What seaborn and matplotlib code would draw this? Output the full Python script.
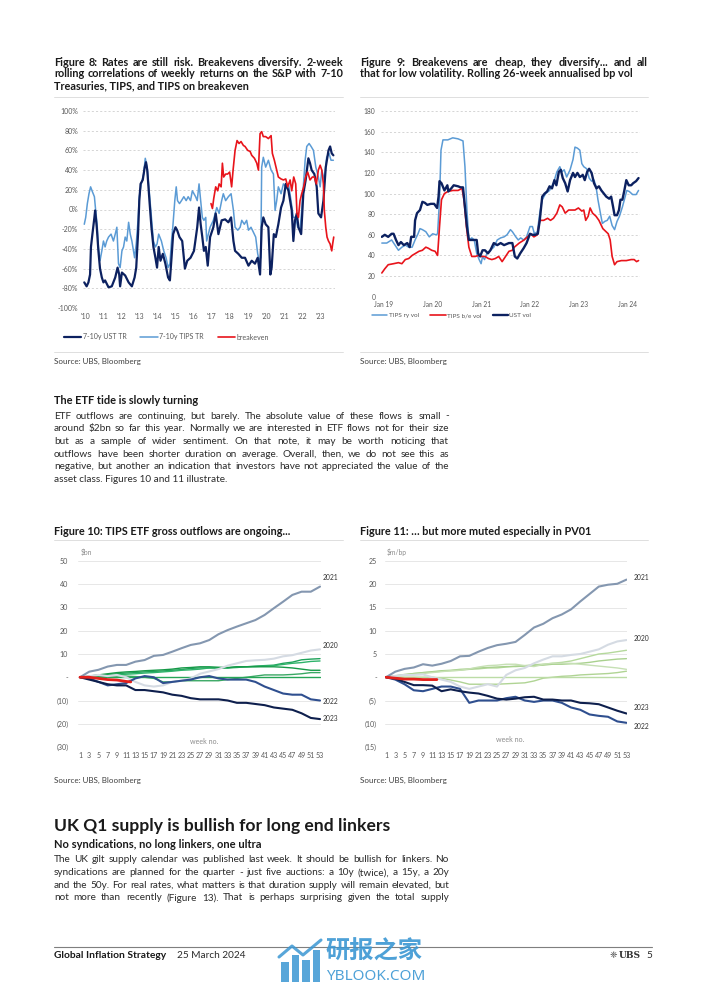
import matplotlib
matplotlib.use('Agg')
import matplotlib.pyplot as plt
import seaborn as sns
from matplotlib.lines import Line2D
from matplotlib.patches import Rectangle

W, H = 702, 992
FONT = ['Lato', 'DejaVu Sans']

# ---------------- Figure 8: 2-week rolling correlations with S&P (%)
ust_tr_x = [2009.96, 2010.09, 2010.19, 2010.28, 2010.33, 2010.41, 2010.52, 2010.56, 2010.65, 2010.74,
            2010.83, 2010.93, 2011.02, 2011.11, 2011.30, 2011.48, 2011.67, 2011.80, 2011.89, 2011.94,
            2012.04, 2012.22, 2012.41, 2012.59, 2012.74, 2012.83, 2012.93, 2013.00, 2013.07, 2013.19,
            2013.30, 2013.37, 2013.44, 2013.56, 2013.67, 2013.78, 2013.89, 2013.98, 2014.07, 2014.17,
            2014.30, 2014.44, 2014.59, 2014.69, 2014.78, 2014.87, 2015.00, 2015.09, 2015.22, 2015.37,
            2015.52, 2015.65, 2015.83, 2016.02, 2016.20, 2016.30, 2016.39, 2016.48, 2016.57, 2016.67,
            2016.78, 2016.91, 2017.09, 2017.22, 2017.37, 2017.55, 2017.74, 2017.92, 2018.07, 2018.20,
            2018.29, 2018.47, 2018.66, 2018.84, 2019.03, 2019.21, 2019.39, 2019.54, 2019.67, 2019.76,
            2019.85, 2019.98, 2020.13, 2020.24, 2020.31, 2020.43, 2020.54, 2020.68, 2020.83, 2020.96,
            2021.09, 2021.24, 2021.42, 2021.51, 2021.60, 2021.70, 2021.79, 2021.94, 2022.06, 2022.19,
            2022.34, 2022.43, 2022.52, 2022.67, 2022.80, 2022.89, 2023.04, 2023.17, 2023.30, 2023.45,
            2023.54, 2023.63, 2023.72]
ust_tr_y = [-74, -78, -74, -66, -38, -25, -8, -1, -18, -42,
            -60, -69, -74, -72, -79, -78, -69, -59, -66, -78,
            -64, -67, -74, -78, -69, -59, -25, 9, 26, 30,
            43, 48, 40, 9, -18, -38, -49, -59, -38, -52,
            -45, -55, -69, -72, -49, -25, -18, -21, -28, -32,
            -60, -52, -49, -42, -18, 2, -15, -28, -42, -38,
            -57, -28, -18, -4, -25, -11, -10, -13, -8, -32,
            -42, -45, -49, -49, -57, -52, -55, -49, -66, -18,
            -8, -15, -18, -66, -59, -25, -28, -15, 2, 9,
            26, 19, -1, -32, -11, -4, -18, -25, 16, 30,
            52, 47, 40, 36, 23, -4, -8, 9, 43, 60,
            64, 57, 55]

tips_tr_x = [2009.96, 2010.04, 2010.13, 2010.22, 2010.31, 2010.41, 2010.52, 2010.59, 2010.67, 2010.74,
             2010.83, 2010.93, 2011.02, 2011.11, 2011.20, 2011.30, 2011.44, 2011.57, 2011.67, 2011.76,
             2011.85, 2011.94, 2012.04, 2012.13, 2012.22, 2012.31, 2012.41, 2012.50, 2012.59, 2012.74,
             2012.83, 2012.93, 2013.00, 2013.11, 2013.24, 2013.33, 2013.43, 2013.56, 2013.67, 2013.78,
             2013.89, 2013.98, 2014.07, 2014.22, 2014.35, 2014.48, 2014.59, 2014.69, 2014.78, 2014.85,
             2014.96, 2015.04, 2015.11, 2015.22, 2015.33, 2015.46, 2015.59, 2015.70, 2015.83, 2015.93,
             2016.02, 2016.11, 2016.20, 2016.30, 2016.39, 2016.48, 2016.57, 2016.67, 2016.72, 2016.91,
             2017.09, 2017.28, 2017.41, 2017.55, 2017.64, 2017.77, 2017.92, 2018.07, 2018.20, 2018.29,
             2018.44, 2018.57, 2018.66, 2018.80, 2018.93, 2019.03, 2019.17, 2019.30, 2019.43, 2019.54,
             2019.63, 2019.71, 2019.76, 2019.85, 2019.98, 2020.13, 2020.28, 2020.41, 2020.50, 2020.59,
             2020.68, 2020.83, 2020.96, 2021.09, 2021.24, 2021.38, 2021.51, 2021.64, 2021.75, 2021.88,
             2021.97, 2022.06, 2022.16, 2022.25, 2022.38, 2022.49, 2022.62, 2022.75, 2022.89, 2022.99,
             2023.08, 2023.22, 2023.35, 2023.48, 2023.59, 2023.72]
tips_tr_y = [-15, -8, 6, 16, 23, 18, 13, -1, -15, -38,
             -52, -42, -32, -38, -32, -28, -25, -32, -25, -18,
             -55, -59, -42, -38, -28, -32, -13, -25, -32, -49,
             -35, -11, 13, 26, 36, 52, 43, 16, -8, -32,
             -38, -35, -25, -32, -42, -49, -59, -55, -32, -18,
             9, 23, 9, 6, 9, 13, 9, 13, 9, 19,
             16, 13, 9, 26, 9, -8, -11, -8, -32, -18,
             -11, 2, -4, 9, 16, 9, 13, 16, -1, -18,
             -21, -18, -11, -15, -11, -21, -18, -23, -28, -45,
             -52, -49, 43, 53, 43, 50, 40, 36, -1, 9,
             23, 16, 26, 23, 26, 9, -8, -8, -18, -21,
             -1, 23, 50, 64, 67, 64, 60, 43, 33, 23,
             40, 30, 53, 57, 50, 50]

be_x = [2016.96, 2017.04, 2017.11, 2017.22, 2017.33, 2017.41, 2017.52, 2017.59, 2017.66, 2017.77,
        2017.88, 2017.99, 2018.10, 2018.18, 2018.29, 2018.40, 2018.51, 2018.62, 2018.75, 2018.84,
        2018.99, 2019.12, 2019.21, 2019.36, 2019.49, 2019.58, 2019.67, 2019.76, 2019.85, 2019.98,
        2020.13, 2020.28, 2020.35, 2020.46, 2020.59, 2020.68, 2020.83, 2020.96, 2021.09, 2021.20,
        2021.33, 2021.42, 2021.53, 2021.64, 2021.71, 2021.79, 2021.88, 2021.97, 2022.08, 2022.19,
        2022.30, 2022.43, 2022.56, 2022.67, 2022.78, 2022.89, 2022.99, 2023.08, 2023.17, 2023.22,
        2023.30, 2023.37, 2023.45, 2023.54, 2023.63, 2023.68, 2023.74]
be_y = [6, 1, 11, 23, 19, 26, 23, 47, 33, 36,
        36, 38, 23, 40, 60, 70, 67, 69, 65, 64,
        60, 59, 55, 52, 47, 40, 77, 79, 74, 74,
        72, 75, 57, 50, 40, 33, 31, 30, 31, 23,
        30, 19, 33, 26, -4, -8, 9, 16, 23, 33,
        38, 30, 33, 33, 26, 40, 45, 40, 26, -1,
        -18, -28, -32, -35, -42, -35, -28]

# ---------------- Figure 9: rolling 26-week annualised bp vol
ust_vol_x = [2018.97, 2019.03, 2019.10, 2019.17, 2019.21, 2019.26, 2019.31, 2019.36, 2019.42, 2019.49,
             2019.54, 2019.57, 2019.63, 2019.65, 2019.69, 2019.75, 2019.80, 2019.85, 2019.90, 2019.97,
             2020.04, 2020.10, 2020.13, 2020.15, 2020.19, 2020.25, 2020.31, 2020.33, 2020.39, 2020.44,
             2020.53, 2020.58, 2020.63, 2020.67, 2020.71, 2020.75, 2020.84, 2020.91, 2020.94, 2020.98,
             2021.03, 2021.08, 2021.14, 2021.19, 2021.26, 2021.33, 2021.40, 2021.47, 2021.57, 2021.64,
             2021.69, 2021.74, 2021.80, 2021.87, 2021.93, 2022.00, 2022.05, 2022.11, 2022.16, 2022.20,
             2022.25, 2022.30, 2022.35, 2022.40, 2022.45, 2022.50, 2022.54, 2022.59, 2022.63, 2022.67,
             2022.72, 2022.77, 2022.82, 2022.88, 2022.92, 2022.97, 2023.02, 2023.08, 2023.12, 2023.17,
             2023.21, 2023.26, 2023.31, 2023.36, 2023.41, 2023.46, 2023.51, 2023.56, 2023.62, 2023.66,
             2023.70, 2023.73, 2023.78, 2023.82, 2023.85, 2023.89, 2023.93, 2023.97, 2024.02, 2024.07,
             2024.11, 2024.17, 2024.22]
ust_vol_y = [58, 60, 58, 61, 61, 55, 50, 53, 50, 52,
             48, 58, 58, 74, 81, 84, 92, 91, 89, 90,
             90, 86, 97, 112, 110, 103, 108, 102, 105, 108,
             107, 106, 106, 87, 68, 55, 55, 55, 42, 39,
             45, 45, 42, 45, 52, 50, 52, 50, 52, 52,
             39, 37, 42, 47, 52, 61, 60, 60, 61, 74,
             97, 100, 102, 107, 105, 113, 108, 121, 123, 115,
             110, 102, 113, 120, 116, 120, 116, 118, 113, 121,
             124, 120, 110, 105, 107, 103, 100, 97, 95, 97,
             87, 79, 79, 84, 94, 94, 103, 113, 108, 108,
             110, 112, 115]

tips_vol_x = [2018.97, 2019.07, 2019.17, 2019.24, 2019.31, 2019.38, 2019.45, 2019.52, 2019.59, 2019.65,
              2019.71, 2019.75, 2019.80, 2019.87, 2019.94, 2020.01, 2020.08, 2020.11, 2020.15, 2020.18,
              2020.22, 2020.32, 2020.42, 2020.53, 2020.63, 2020.67, 2020.71, 2020.75, 2020.81, 2020.86,
              2020.91, 2020.96, 2021.00, 2021.03, 2021.07, 2021.12, 2021.19, 2021.26, 2021.33, 2021.40,
              2021.47, 2021.53, 2021.60, 2021.64, 2021.71, 2021.76, 2021.81, 2021.87, 2021.93, 2022.00,
              2022.05, 2022.09, 2022.15, 2022.20, 2022.25, 2022.32, 2022.40, 2022.48, 2022.55, 2022.61,
              2022.65, 2022.70, 2022.75, 2022.82, 2022.88, 2022.92, 2022.97, 2023.02, 2023.06, 2023.10,
              2023.16, 2023.21, 2023.26, 2023.31, 2023.35, 2023.39, 2023.44, 2023.48, 2023.53, 2023.58,
              2023.63, 2023.68, 2023.73, 2023.78, 2023.83, 2023.89, 2023.93, 2023.98, 2024.03, 2024.10,
              2024.17, 2024.22]
tips_vol_y = [52, 52, 55, 50, 45, 48, 50, 48, 48, 55,
              61, 66, 65, 63, 58, 61, 60, 61, 94, 142,
              152, 152, 154, 153, 151, 126, 84, 55, 57, 55,
              42, 36, 32, 39, 36, 42, 45, 48, 55, 57,
              58, 60, 65, 63, 58, 55, 57, 55, 58, 68,
              68, 61, 63, 81, 94, 100, 103, 110, 121, 126,
              121, 123, 116, 123, 133, 145, 144, 142, 129, 126,
              124, 115, 112, 113, 107, 94, 81, 71, 73, 74,
              78, 69, 65, 73, 78, 87, 94, 103, 102, 99,
              99, 103]

be_vol_x = [2018.97, 2019.03, 2019.10, 2019.21, 2019.31, 2019.38, 2019.45, 2019.52, 2019.59, 2019.66,
            2019.73, 2019.80, 2019.87, 2019.92, 2019.99, 2020.06, 2020.11, 2020.15, 2020.19, 2020.25,
            2020.32, 2020.42, 2020.53, 2020.61, 2020.65, 2020.70, 2020.75, 2020.81, 2020.88, 2020.94,
            2021.01, 2021.08, 2021.15, 2021.22, 2021.29, 2021.36, 2021.43, 2021.50, 2021.57, 2021.64,
            2021.68, 2021.78, 2021.88, 2021.95, 2022.01, 2022.08, 2022.15, 2022.20, 2022.28, 2022.36,
            2022.42, 2022.48, 2022.55, 2022.61, 2022.66, 2022.72, 2022.79, 2022.86, 2022.92, 2022.99,
            2023.06, 2023.10, 2023.14, 2023.19, 2023.23, 2023.28, 2023.35, 2023.41, 2023.49, 2023.60,
            2023.64, 2023.68, 2023.73, 2023.78, 2023.87, 2023.97, 2024.07, 2024.13, 2024.18, 2024.22]
be_vol_y = [23, 27, 31, 32, 33, 32, 36, 37, 40, 42,
            44, 45, 48, 47, 45, 44, 40, 68, 94, 100,
            102, 103, 103, 105, 94, 68, 48, 39, 39, 40,
            39, 39, 37, 36, 37, 39, 34, 39, 44, 45,
            48, 52, 55, 58, 61, 58, 60, 74, 74, 76,
            74, 76, 81, 89, 87, 81, 84, 84, 84, 86,
            83, 84, 74, 78, 86, 81, 78, 74, 66, 61,
            55, 39, 31, 34, 35, 35, 36, 36, 34, 35]

# ---------------- Figures 10 & 11: cumulative TIPS ETF flows by week of year
weeks = [1, 3, 5, 7, 9, 11, 13, 15, 17, 19, 21, 23, 25, 27, 29, 31, 33, 35, 37, 39, 41, 43, 45, 47, 49, 51, 53]
weeks_2024 = [1, 3, 5, 7, 9, 11, 12]

flows_bn = {
    '2021': [0, 2.4, 3.2, 4.6, 5.3, 5.3, 6.7, 7.4, 9.2, 9.6, 11, 12.5, 13.9, 14.6, 16, 18.5, 20.3, 21.8,
             23.2, 24.6, 26.8, 29.7, 32.5, 35.4, 36.8, 36.8, 39],
    '2020': [0, 0.5, 1, 0.5, 1, 0, -2, -3.5, -4, -3.5, -2, -1.5, -0.5, 1.5, 2.5, 3.5, 5, 6,
             7, 7.3, 7.5, 8, 9, 9.5, 10.5, 11.5, 12],
    '2022': [0, -0.5, -2, -3.5, -3, -2.5, -0.5, 0.5, 0, -2.5, -2, -1.5, -1, 0, 0.5, -0.5, -1, -1,
             -1, -2, -4, -5.5, -7, -7.5, -7.5, -9.5, -10],
    '2023': [0, -1, -2, -3, -3.5, -3.5, -5.5, -5.5, -6, -6.5, -7.5, -8, -9, -9.5, -9.5, -9.5, -10, -11,
             -11, -11.5, -12, -13, -13.5, -14, -15.5, -17.5, -18],
}
older_bn = [
    [0, 0.3, 0.8, 1.2, 1.5, 1.8, 2, 2.3, 2.5, 2.7, 3, 3.3, 3.8, 4, 4, 4, 4, 4.2, 4.5, 4.8, 5, 5.2, 6, 6.5, 7.5, 7.8, 8],
    [0, 0.3, 0.6, 1, 1, 1.3, 1.5, 1.8, 2, 2.3, 2.6, 3, 3.2, 3.5, 4, 4, 4, 4.5, 4.5, 4.6, 4.8, 5, 5.5, 6, 6.3, 6.8, 7],
    [0, 0.5, 1, 1.5, 2, 2.3, 2.5, 2.8, 3, 3.2, 3.5, 4, 4.2, 4.5, 4.5, 4.3, 4.2, 4.5, 4.5, 4.5, 4.5, 4.5, 4.3, 4, 3.5, 3, 3],
    [0, 0.2, 0.3, 0.5, 0.5, 0.5, 0.3, 0, -0.5, -2, -2, -1.5, -1.5, -1.5, -1.5, -1.5, -1, -0.5, 0, 0.5, 1, 1, 1, 1.2, 1.5, 2, 2],
    [0, 0, 0, 0, 0, 0, 0, 0, 0, 0, 0, 0, 0, 0, 0, 0, 0, 0, 0, 0, 0, 0, 0, 0, 0, 0, 0],
]
flows_2024_bn = [0, 0, -0.5, -1, -1.2, -1.8, -2]

flows_pv = {
    '2021': [0, 1.2, 1.8, 2.1, 2.8, 2.5, 2.9, 3.5, 4.5, 4.6, 5.5, 6.3, 6.9, 7.2, 7.6, 9.1, 10.7, 11.5,
             12.7, 13.5, 14.6, 16.3, 17.9, 19.5, 19.9, 20.1, 21],
    '2020': [0, 0.3, 0.5, 0.5, 0.6, 0, -0.5, -1, -2, -2.5, -2, -1.5, -2, 0.5, 1.5, 2, 3, 3.8,
             4.5, 4.5, 4.8, 5, 5.5, 6, 7, 7.7, 8],
    '2022': [0, -0.5, -1.5, -2.8, -3, -2.5, -2, -2, -2.5, -5.5, -5, -5, -5, -4.5, -4.2, -5, -5.3, -5,
             -5, -5.5, -6.5, -7, -8, -8.3, -8.5, -9.5, -9.8],
    '2023': [0, -0.3, -1, -1.7, -1.7, -1.8, -3, -2.6, -3, -3.3, -3.5, -4, -4.6, -4.8, -4.6, -4.3, -4.2, -4.8,
             -4.8, -5, -5, -5.5, -5.6, -5.8, -6.5, -7.2, -7.8],
}
older_pv = [
    [0, 0.3, 0.5, 0.8, 1, 1.1, 1.3, 1.4, 1.5, 1.7, 1.8, 2, 2, 2.2, 2.4, 2.5, 2.7, 2.8, 3, 3.2, 3.5, 4, 4.5, 5, 5.2, 5.5, 5.8],
    [0, 0.3, 0.6, 0.8, 1, 1.2, 1.4, 1.5, 1.7, 1.8, 2, 2.1, 2.2, 2.3, 2.3, 2.4, 2.5, 2.6, 2.8, 2.8, 2.9, 3, 3.2, 3.5, 3.7, 3.9, 4],
    [0, 0.2, 0.4, 0.6, 0.8, 1, 1.2, 1.4, 1.5, 1.8, 2.2, 2.5, 2.6, 2.8, 2.8, 2.5, 2.3, 2.8, 3, 3, 3, 2.8, 2.6, 2.4, 2.2, 2, 1.7],
    [0, 0, 0, 0, 0, 0, -0.2, -0.6, -1, -1.5, -1.5, -1.5, -1.5, -1.4, -1.3, -1.2, -0.8, -0.2, 0, 0.2, 0.3, 0.5, 0.6, 0.7, 0.8, 1, 1.3],
    [0, 0, 0, 0, 0, 0, 0, 0, 0, 0, 0, 0, 0, 0, 0, 0, 0, 0, 0, 0, 0, 0, 0, 0, 0, 0, 0],
]
flows_2024_pv = [0, -0.2, -0.4, -0.4, -0.5, -0.5, -0.5]

year_colors = {'2021': '#8497b0', '2020': '#d5dbe3', '2022': '#2f4f8f', '2023': '#0e1f4d'}
greens_bn = ['#1fa25a', '#2eb36a', '#159947', '#3aa864', '#25a556']
greens_pv = ['#b5d99c', '#a9d18e', '#c6e0b4', '#b0d494', '#bcdca6']

# ---------------- page text
fig8_title = ['Figure 8: Rates are still risk. Breakevens diversify. 2-week',
              'rolling correlations of weekly returns on the S&P with 7-10',
              'Treasuries, TIPS, and TIPS on breakeven']
fig9_title = ['Figure 9: Breakevens are cheap, they diversify... and all',
              'that for low volatility. Rolling 26-week annualised bp vol']
etf_text = ['ETF outflows are continuing, but barely. The absolute value of these flows is small -',
            'around $2bn so far this year. Normally we are interested in ETF flows not for their size',
            'but as a sample of wider sentiment. On that note, it may be worth noticing that',
            'outflows have been shorter duration on average. Overall, then, we do not see this as',
            'negative, but another an indication that investors have not appreciated the value of the',
            'asset class. Figures 10 and 11 illustrate.']
uk_text = ['The UK gilt supply calendar was published last week. It should be bullish for linkers. No',
           'syndications are planned for the quarter - just five auctions: a 10y (twice), a 15y, a 20y',
           'and the 50y. For real rates, what matters is that duration supply will remain elevated, but',
           'not more than recently (Figure 13). That is perhaps surprising given the total supply']

sns.set_theme(style='white')
plt.rcParams['font.family'] = FONT
plt.rcParams['axes.unicode_minus'] = False

fig = plt.figure(figsize=(W / 100, H / 100), dpi=100)
GREY = '#595959'
TXT = '#2b2b2b'
TITLE = 7.8
BODY = 7.2


def ptext(x, y, s, size, weight='normal', color='#1a1a1a', ha='left', family=None, **kw):
    return fig.text(x / W, 1 - y / H, s, fontsize=size, fontweight=weight, color=color,
                    ha=ha, va='center', family=family or FONT, parse_math=False, **kw)


def jline(x0, x1, y, s, size, weight='normal', color='#1a1a1a'):
    # justified line: spread the words between x0 and x1 (pixels)
    words = s.split()
    arts = [ptext(x0, y, w, size, weight, color) for w in words]
    rend = fig.canvas.get_renderer()
    widths = [a.get_window_extent(rend).width for a in arts]
    gap = (x1 - x0 - sum(widths)) / (len(words) - 1)
    x = x0
    for a, w in zip(arts, widths):
        a.set_x(x / W)
        x += w + gap


def paragraph(x0, x1, y0, step, lines, size, weight='normal', color='#1a1a1a', justify_last=False):
    for i, s in enumerate(lines):
        y = y0 + i * step
        if i == len(lines) - 1 and not justify_last:
            ptext(x0, y, s, size, weight, color)
        else:
            jline(x0, x1, y, s, size, weight, color)


def hline(x0, x1, y, color='#d9d9d9', lw=0.6):
    fig.add_artist(Line2D([x0 / W, x1 / W], [1 - y / H, 1 - y / H], color=color, lw=lw))


def add_ax(left, top, right, bottom):
    ax = fig.add_axes([left / W, 1 - bottom / H, (right - left) / W, (bottom - top) / H])
    for sp in ax.spines.values():
        sp.set_visible(False)
    ax.set_facecolor('none')
    return ax


def line(ax, x, y, color, lw, z=3):
    sns.lineplot(x=x, y=y, ax=ax, color=color, linewidth=lw, estimator=None, zorder=z, legend=False)


# ---------------- Figure 8
paragraph(54, 343, 62, 11.8, fig8_title, TITLE, 'bold')
hline(54, 343, 96.5)
ax8 = add_ax(83, 111, 335, 308)
for v in range(-100, 101, 20):
    ax8.axhline(v, color='#cfcfcf', lw=0.6, ls=(0, (2.5, 2.5)), zorder=0)
line(ax8, tips_tr_x, tips_tr_y, '#5b9bd5', 1.1)
line(ax8, ust_tr_x, ust_tr_y, '#0c2160', 1.6, 4)
line(ax8, be_x, be_y, '#e8141b', 1.2, 5)
ax8.set_xlim(2009.89, 2023.81)
ax8.set_ylim(-100, 100)
ax8.set_yticks(range(-100, 101, 20), [f'{v}%' for v in range(-100, 101, 20)])
ax8.set_xticks(range(2010, 2024), [f"'{y % 100:02d}" for y in range(2010, 2024)])
ax8.tick_params(length=0, labelsize=5.0, labelcolor=GREY, pad=3.5)
ax8.set_xlabel('')
ax8.set_ylabel('')
h8 = [Line2D([], [], color='#0c2160', lw=1.6), Line2D([], [], color='#5b9bd5', lw=1.1),
      Line2D([], [], color='#e8141b', lw=1.2)]
fig.legend(h8, ['7-10y UST TR', '7-10y TIPS TR', 'breakeven'], loc='center left',
           bbox_to_anchor=(64 / W, 1 - 337 / H), ncol=3, frameon=False, fontsize=5.0,
           labelcolor=GREY, handlelength=2.5, handletextpad=0.2, columnspacing=2.0,
           borderpad=0, borderaxespad=0)
hline(54, 343, 352)
ptext(54, 361.5, 'Source: UBS, Bloomberg', 5.8, color='#404040')

# ---------------- Figure 9
paragraph(360, 648, 62, 11.8, fig9_title, TITLE, 'bold')
hline(360, 648, 96.5)
ax9 = add_ax(381, 111, 640, 296.7)
for v in range(0, 181, 20):
    ax9.axhline(v, color='#cfcfcf', lw=0.6, ls=(0, (2.5, 2.5)), zorder=0)
line(ax9, tips_vol_x, tips_vol_y, '#5b9bd5', 1.1)
line(ax9, be_vol_x, be_vol_y, '#e8141b', 1.2, 4)
line(ax9, ust_vol_x, ust_vol_y, '#0c2160', 1.7, 5)
ax9.set_xlim(2018.953, 2024.25)
ax9.set_ylim(0, 180)
ax9.set_yticks(range(0, 181, 20))
ax9.set_xticks(range(2019, 2025), [f'Jan {y % 100}' for y in range(2019, 2025)])
ax9.tick_params(length=0, labelsize=4.8, labelcolor=GREY, pad=3)
ax9.tick_params(axis='y', pad=4.2)
ax9.set_xlabel('')
ax9.set_ylabel('')
h9 = [Line2D([], [], color='#5b9bd5', lw=1.1), Line2D([], [], color='#e8141b', lw=1.2),
      Line2D([], [], color='#0c2160', lw=1.7)]
fig.legend(h9, ['TIPS ry vol', 'TIPS b/e vol', 'UST vol'], loc='center left',
           bbox_to_anchor=(372 / W, 1 - 315.7 / H), ncol=3, frameon=False, fontsize=4.6,
           labelcolor=GREY, handlelength=2.4, handletextpad=0.2, columnspacing=1.8,
           borderpad=0, borderaxespad=0)
hline(360, 648, 352)
ptext(360, 361.5, 'Source: UBS, Bloomberg', 5.8, color='#404040')

# ---------------- ETF text
ptext(54, 401, 'The ETF tide is slowly turning', 7.9, 'bold')
paragraph(54, 449, 416, 12.7, etf_text, BODY, 'normal', TXT)


# ---------------- Figures 10 & 11
def flows_chart(ax, series, older, greens, last, labels_y, label_x, ylim, step, unit, unit_xy, wk_xy):
    for v in range(ylim[0], ylim[1] + 1, step):
        ax.axhline(v, color='#e3e3e3', lw=0.6, zorder=0)
    for vals, col in zip(older, greens):
        line(ax, weeks, vals, col, 1.0, 2)
    for yr in ['2020', '2021', '2022', '2023']:
        line(ax, weeks, series[yr], year_colors[yr], 1.5, 3)
    line(ax, weeks_2024, last, '#e3201b', 2.0, 6)
    for yr, yl in labels_y.items():
        ax.text(label_x, yl, yr, fontsize=4.9, color='#333333', va='center', ha='left', clip_on=False)
    ax.set_ylim(*ylim)
    ticks = list(range(ylim[0], ylim[1] + 1, step))
    ax.set_yticks(ticks, ['-' if t == 0 else (f'({-t})' if t < 0 else str(t)) for t in ticks])
    ax.set_xticks(weeks, [str(w) for w in weeks])
    ax.tick_params(length=0, labelsize=5.1, labelcolor=GREY)
    ax.set_xlabel('')
    ax.set_ylabel('')
    ptext(unit_xy[0], unit_xy[1], unit, 4.9, color='#8c8c8c')
    ptext(wk_xy[0], wk_xy[1], 'week no.', 5.1, color='#8c8c8c', ha='center')


ptext(54, 531.5, 'Figure 10: TIPS ETF gross outflows are ongoing...', TITLE, 'bold')
hline(54, 343, 540)
ax10 = add_ax(78, 561, 320.5, 747)
ax10.set_xlim(0.57, 53.1)
flows_chart(ax10, flows_bn, older_bn, greens_bn, flows_2024_bn,
            {'2021': 42.8, '2020': 13.5, '2022': -10.5, '2023': -17.9}, 53.65,
            (-30, 50), 10, '$bn', (81, 552), (204, 741))
ax10.tick_params(axis='y', pad=7)
ax10.tick_params(axis='x', pad=3.5)
ptext(54, 780.5, 'Source: UBS, Bloomberg', 5.8, color='#404040')

ptext(360, 531.5, 'Figure 11: \u2026 but more muted especially in PV01', TITLE, 'bold')
hline(360, 648, 540)
ax11 = add_ax(385, 561, 627, 747)
ax11.set_xlim(0.78, 53.1)
flows_chart(ax11, flows_pv, older_pv, greens_pv, flows_2024_pv,
            {'2021': 21.4, '2020': 8.3, '2023': -6.55, '2022': -10.5}, 54.5,
            (-15, 25), 5, '$m/bp', (387, 552), (510, 739.5))
ax11.tick_params(axis='y', pad=5.8)
ax11.tick_params(axis='x', pad=3.5)
ptext(360, 780.5, 'Source: UBS, Bloomberg', 5.8, color='#404040')

# ---------------- UK section
ptext(54, 826, 'UK Q1 supply is bullish for long end linkers', 12.6, 'bold')
ptext(54, 844, 'No syndications, no long linkers, one ultra', 8.0, 'bold')
paragraph(54, 449, 860, 12.6, uk_text, BODY, 'normal', TXT, justify_last=True)

# ---------------- footer
hline(54, 652, 946.5, color='#7f7f7f', lw=0.8)
ptext(54, 956, 'Global Inflation Strategy', 7.4, 'bold')
ptext(177, 956, '25 March 2024', 7.2, 'normal', TXT)
ptext(617, 956, '\u2748', 6.5, color='#333333', ha='right', family=['DejaVu Sans'])
ptext(641, 956, 'UBS', 6.6, 'bold', '#333333', ha='right', family=['DejaVu Serif'])
ptext(652, 956, '5', 7.2, 'normal', TXT, ha='right')

# watermark
WM = '#3b97d3'
for bx, btop in [(281, 962), (291.5, 955), (302, 960), (312.5, 950)]:
    fig.add_artist(Rectangle((bx / W, 1 - 982 / H), 7.5 / W, (982 - btop) / H,
                             transform=fig.transFigure, color=WM, alpha=0.85, lw=0))
fig.add_artist(Line2D([279 / W, 292 / W, 303 / W, 321 / W],
                      [1 - 957 / H, 1 - 946 / H, 1 - 955 / H, 1 - 940 / H],
                      color=WM, lw=2.2, alpha=0.85))
ptext(326, 952, '研报之家', 17.5, 'bold', WM, family=['Noto Sans CJK SC', 'DejaVu Sans'], alpha=0.9)
ptext(326, 976, 'YBLOOK.COM', 11.0, 'normal', WM, family=['Noto Sans', 'DejaVu Sans'], alpha=0.9)

fig.savefig('out.png', dpi=100, facecolor='white')
